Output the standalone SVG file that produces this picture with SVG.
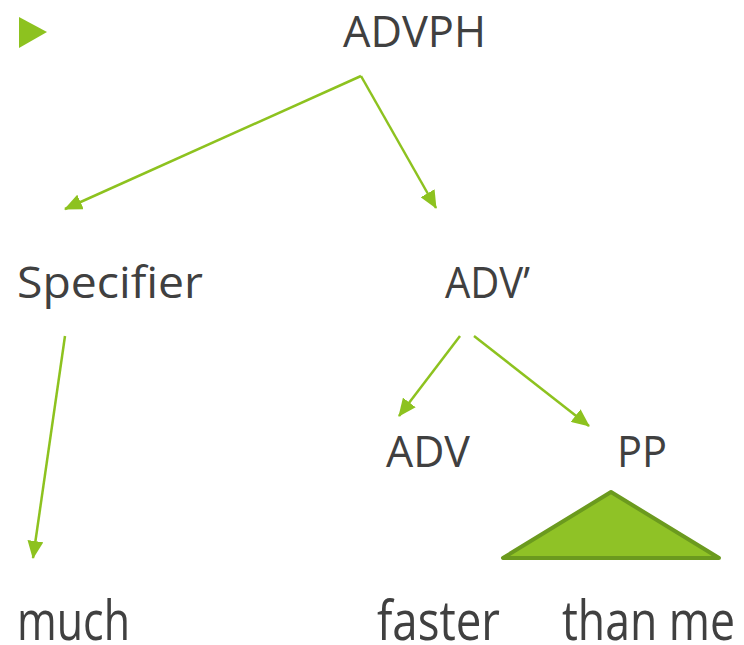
<svg xmlns="http://www.w3.org/2000/svg" width="744" height="645" viewBox="0 0 744 645">
<style>
.t{font-family:"Open Sans","DejaVu Sans",sans-serif;font-size:44px;fill:#404040}
.b{font-family:"Open Sans","DejaVu Sans",sans-serif;font-size:55px;fill:#404040}
.c{stroke:#8dc21f;stroke-width:2.5;fill:none;marker-end:url(#ah)}
</style>
<defs>
<marker id="ah" markerUnits="userSpaceOnUse" markerWidth="18" markerHeight="16" refX="17" refY="8" orient="auto">
<path d="M0,0 L18,8 L0,16 Z" fill="#8dc21f"/>
</marker>
</defs>
<rect width="744" height="645" fill="#fff"/>
<polygon points="19,17 19,48 47,32" fill="#8dc21f"/>
<g id="connectors">
<line class="c" x1="361" y1="76" x2="65" y2="209"/>
<line class="c" x1="361" y1="76" x2="436" y2="208"/>
<line class="c" x1="65" y1="336" x2="33" y2="558"/>
<line class="c" x1="460" y1="336" x2="399" y2="416"/>
<line class="c" x1="474" y1="336" x2="589" y2="426"/>
</g>
<g id="advph"><text class="t" x="343" y="47" textLength="143" lengthAdjust="spacingAndGlyphs">ADVPH</text></g>
<g id="specifier"><text class="t" x="17" y="298" textLength="186" lengthAdjust="spacingAndGlyphs">Specifier</text></g>
<g id="advbar"><text class="t" x="445" y="298" textLength="85" lengthAdjust="spacingAndGlyphs">ADV’</text></g>
<g id="adv"><text class="t" x="386" y="467" textLength="84" lengthAdjust="spacingAndGlyphs">ADV</text></g>
<g id="pp"><text class="t" x="617" y="467" textLength="50" lengthAdjust="spacingAndGlyphs">PP</text></g>
<g id="triangle"><polygon points="611,492 503,558 719,558" fill="#8fc226" stroke="#6b9a1e" stroke-width="4" stroke-linejoin="round"/></g>
<g id="much"><text class="b" x="17" y="640" textLength="113" lengthAdjust="spacingAndGlyphs">much</text></g>
<g id="faster"><text class="b" x="377" y="640" textLength="123" lengthAdjust="spacingAndGlyphs">faster</text></g>
<g id="thanme"><text class="b" x="562" y="640" textLength="173" lengthAdjust="spacingAndGlyphs">than me</text></g>
</svg>
